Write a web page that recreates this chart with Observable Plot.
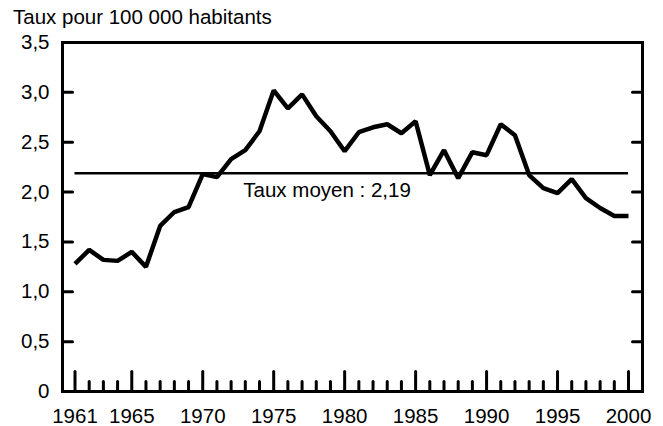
<!DOCTYPE html>
<html>
<head>
<meta charset="utf-8">
<script src="https://cdn.jsdelivr.net/npm/d3@7"></script>
<script src="https://cdn.jsdelivr.net/npm/@observablehq/plot@0.6"></script>
<style>
  html, body { margin: 0; padding: 0; background: #fff; }
  #wrap { position: relative; width: 663px; height: 426px; font-family: "Liberation Sans", Arial, sans-serif; }
  #title { position: absolute; left: 13px; top: 7px; font-size: 20.5px; line-height: 20px; color: #000; white-space: nowrap; }
  #wrap svg { position: absolute; left: 0; top: 0; }
</style>
</head>
<body>
<div id="wrap"><div id="title">Taux pour 100 000 habitants</div></div>
<script>
const years = d3.range(1961, 2001);
const rates = [1.28, 1.42, 1.32, 1.31, 1.40, 1.25, 1.66, 1.80, 1.85, 2.18,
               2.15, 2.33, 2.42, 2.61, 3.02, 2.84, 2.98, 2.76, 2.61, 2.41,
               2.60, 2.65, 2.68, 2.59, 2.71, 2.17, 2.42, 2.14, 2.40, 2.37,
               2.68, 2.57, 2.17, 2.04, 1.99, 2.13, 1.94, 1.84, 1.76, 1.76];
const meanRate = 2.19;
const meanLabel = "Taux moyen : 2,19";
const xLabelYears = [1961, 1965, 1970, 1975, 1980, 1985, 1990, 1995, 2000];
const majorTickYears = [1961, 1965, 1970, 1975, 1980, 1985, 1990, 1995, 2000];
const yTicks = [0, 0.5, 1, 1.5, 2, 2.5, 3, 3.5];
const yInnerTicks = [0.5, 1, 1.5, 2, 2.5, 3];

const data = years.map((y, i) => ({year: y, rate: rates[i]}));
const minorYears = years.filter(y => !majorTickYears.includes(y));

const tickShape = {draw(ctx, l) { ctx.moveTo(0, 0); ctx.lineTo(0, -l); }};
const fmtY = d => d === 0 ? "0" : d.toFixed(1).replace(".", ",");

const chart = Plot.plot({
  width: 663,
  height: 426,
  marginLeft: 62,
  marginRight: 21,
  marginTop: 42,
  marginBottom: 35,
  style: {fontFamily: "'Liberation Sans', Arial, sans-serif", fontSize: "20px", color: "#000", background: "transparent"},
  x: {domain: [1961 - 12.5 / 14.19, 2000 + 14 / 14.19], label: null},
  y: {domain: [0, 3.5], label: null},
  marks: [
    Plot.axisX({ticks: xLabelYears, tickSize: 0, tickPadding: 17, tickFormat: d => String(d), fontSize: 20.5, label: null}),
    Plot.axisY({ticks: yTicks, tickSize: 0, tickPadding: 13, tickFormat: fmtY, fontSize: 20.5, label: null}),
    Plot.vector(minorYears, {x: d => d, frameAnchor: "bottom", rotate: 0, length: 10, anchor: "start", shape: tickShape, stroke: "#000", strokeWidth: 3}),
    Plot.vector(majorTickYears, {x: d => d, frameAnchor: "bottom", rotate: 0, length: 20, anchor: "start", shape: tickShape, stroke: "#000", strokeWidth: 3}),
    Plot.vector(yInnerTicks, {y: d => d, frameAnchor: "left", rotate: 90, length: 10, anchor: "start", shape: tickShape, stroke: "#000", strokeWidth: 3}),
    Plot.vector(yInnerTicks, {y: d => d, frameAnchor: "right", rotate: -90, length: 10, anchor: "start", shape: tickShape, stroke: "#000", strokeWidth: 3}),
    Plot.ruleY([meanRate], {x1: 1961, x2: 2000, stroke: "#000", strokeWidth: 2.5}),
    Plot.text([meanLabel], {x: 1973, y: meanRate, text: d => d, textAnchor: "start", lineAnchor: "top", dy: 9, dx: -2, fontSize: 20.5, fill: "#000"}),
    Plot.line(data, {x: "year", y: "rate", stroke: "#000", strokeWidth: 4.5, strokeLinejoin: "miter", strokeLinecap: "butt"}),
    Plot.frame({stroke: "#000", strokeWidth: 3})
  ]
});
document.getElementById("wrap").appendChild(chart);
</script>
</body>
</html>
